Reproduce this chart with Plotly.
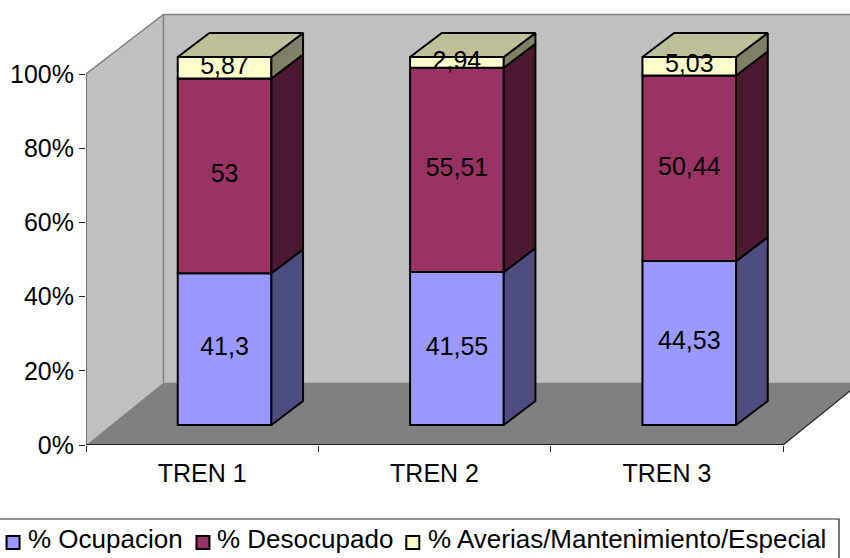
import plotly.graph_objects as go

categories = ["TREN 1", "TREN 2", "TREN 3"]
ocupacion = [41.3, 41.55, 44.53]
desocupado = [53, 55.51, 50.44]
averias = [5.87, 2.94, 5.03]

series_names = ["% Ocupacion", "% Desocupado", "% Averias/Mantenimiento/Especial"]
series_values = [ocupacion, desocupado, averias]
front_colors = ["#9999FF", "#993366", "#FFFFCC"]
side_colors = ["#4D4D80", "#4C1933", "#808066"]
top_color = "#BFBF99"

# Oblique projection, expressed in axis units
WALL_DX, WALL_DY, WALL_TOP_RISE = 0.3333, 16.85, 16.04
BAR_SHIFT_X, BAR_BASE = 0.0963, 5.39
BAR_DX, BAR_DY = 0.1363, 6.47
BAR_WIDTH = 0.403
FRONT_SCALE = 99.2
X_MAX = 3.288
Y_MAX = 117.25
FONT = "Liberation Sans, Arial, sans-serif"
LINE = 2

# Plot frame and key layout, in page pixels
LEFT, RIGHT, TOP, BOTTOM = 85.5, 850, 10, 445
KEY_SWATCH_X = [5, 195, 405]
KEY_TEXT_X = [26, 216, 427]
KEY_Y = 539
KEY_SWATCH_TOP, KEY_SWATCH_BOTTOM = 536, 549


def label(v):
    return str(v).replace(".", ",")


def paper_x(px):
    return (px - LEFT) / (RIGHT - LEFT)


def paper_y(py):
    return (BOTTOM - py) / (BOTTOM - TOP)


fig = go.Figure()

centers = [i + 0.5 + BAR_SHIFT_X for i in range(len(categories))]
totals = [sum(s[i] for s in series_values) for i in range(len(categories))]
bottoms = [BAR_BASE] * len(categories)
segments = []

for name, values, color in zip(series_names, series_values, front_colors):
    heights = [v / t * FRONT_SCALE for v, t in zip(values, totals)]
    fig.add_bar(
        x=centers, y=heights, base=list(bottoms), width=BAR_WIDTH, name=name,
        marker=dict(color=color, line=dict(color="black", width=LINE)),
        hoverinfo="skip", showlegend=False,
    )
    segments.append((list(bottoms), heights))
    bottoms = [b + h for b, h in zip(bottoms, heights)]

# Right-hand side faces of each stacked segment
for (lows, heights), color in zip(segments, side_colors):
    for c, lo, h in zip(centers, lows, heights):
        xr = c + BAR_WIDTH / 2
        fig.add_scatter(
            x=[xr, xr + BAR_DX, xr + BAR_DX, xr, xr],
            y=[lo, lo + BAR_DY, lo + h + BAR_DY, lo + h, lo],
            mode="lines", fill="toself", fillcolor=color,
            line=dict(color="black", width=LINE),
            showlegend=False, hoverinfo="skip",
        )

# Top faces
for c, top in zip(centers, bottoms):
    xl, xr = c - BAR_WIDTH / 2, c + BAR_WIDTH / 2
    fig.add_scatter(
        x=[xl, xl + BAR_DX, xr + BAR_DX, xr, xl],
        y=[top, top + BAR_DY, top + BAR_DY, top, top],
        mode="lines", fill="toself", fillcolor=top_color,
        line=dict(color="black", width=LINE),
        showlegend=False, hoverinfo="skip",
    )

# Value labels centred on the front faces
for (lows, heights), values in zip(segments, series_values):
    fig.add_scatter(
        x=centers,
        y=[lo + h / 2 for lo, h in zip(lows, heights)],
        text=[label(v) for v in values],
        mode="text", textposition="middle center",
        textfont=dict(family=FONT, size=25, color="black"),
        showlegend=False, hoverinfo="skip",
    )

far_x = 3 + WALL_DX
wall_top = 100 + WALL_TOP_RISE

shapes = [
    # Left wall
    dict(type="path", path=f"M0,0 L0,100 L{WALL_DX},{wall_top} L{WALL_DX},{WALL_DY} Z",
         fillcolor="#C0C0C0", line=dict(width=0)),
    # Back wall
    dict(type="rect", x0=WALL_DX, x1=far_x, y0=WALL_DY, y1=wall_top,
         fillcolor="#C0C0C0", line=dict(width=0)),
    # Floor
    dict(type="path", path=f"M0,0 L{WALL_DX},{WALL_DY} L{far_x},{WALL_DY} L3,0 Z",
         fillcolor="#808080", line=dict(width=0)),
    # Wall edges
    dict(type="path", path=f"M0,100 L{WALL_DX},{wall_top} L{far_x},{wall_top}",
         line=dict(color="#808080", width=1.5)),
    dict(type="line", x0=WALL_DX, x1=WALL_DX, y0=WALL_DY, y1=wall_top,
         line=dict(color="#808080", width=1.5)),
    # Floor front-right edge
    dict(type="line", x0=3, x1=far_x, y0=0, y1=WALL_DY,
         line=dict(color="#222222", width=1.2)),
]
shapes = [dict(s, xref="x", yref="y", layer="below") for s in shapes]
# Axis lines limited to the drawn extent
shapes.append(dict(type="line", xref="x", yref="y", x0=0, x1=3, y0=0, y1=0,
                   line=dict(color="#222222", width=2), layer="above"))
shapes.append(dict(type="line", xref="x", yref="y", x0=0, x1=0, y0=0, y1=100,
                   line=dict(color="#222222", width=1), layer="above"))

# Key frame, running off the left and bottom of the page, with its swatches
shapes.append(dict(type="rect", xref="paper", yref="paper",
                   x0=paper_x(-5), x1=paper_x(839), y0=paper_y(519), y1=paper_y(570),
                   fillcolor="white", line=dict(color="#222222", width=1.2)))
annotations = []
for name, color, sx, tx in zip(series_names, front_colors, KEY_SWATCH_X, KEY_TEXT_X):
    shapes.append(dict(type="rect", xref="paper", yref="paper",
                       x0=paper_x(sx + 1), x1=paper_x(sx + 14),
                       y0=paper_y(KEY_SWATCH_BOTTOM), y1=paper_y(KEY_SWATCH_TOP),
                       fillcolor=color, line=dict(color="black", width=2)))
    annotations.append(dict(xref="paper", yref="paper", x=paper_x(tx), y=paper_y(KEY_Y),
                            text=name, showarrow=False, xanchor="left", yanchor="middle",
                            borderpad=0, font=dict(family=FONT, size=26, color="black")))

fig.update_layout(
    width=850, height=558,
    margin=dict(l=LEFT, r=0, t=TOP, b=558 - BOTTOM, pad=0, autoexpand=False),
    paper_bgcolor="white", plot_bgcolor="white",
    barmode="overlay",
    shapes=shapes,
    annotations=annotations,
    showlegend=False,
    font=dict(family=FONT, size=25, color="black"),
    xaxis=dict(
        range=[0, X_MAX], showgrid=False, zeroline=False, showline=False,
        tickmode="array", tickvals=[0.5, 1.5, 2.5], ticktext=categories,
        ticks="outside", ticklen=6, tickcolor="rgba(0,0,0,0)",
        tickfont=dict(family=FONT, size=25),
        minor=dict(tickmode="array", tickvals=[0, 1, 2, 3], ticks="outside",
                   ticklen=6, tickcolor="#222222", tickwidth=1, showgrid=False),
    ),
    yaxis=dict(
        range=[0, Y_MAX], showgrid=False, zeroline=False, showline=False,
        tickmode="array", tickvals=[0, 20, 40, 60, 80, 100],
        ticktext=["0%", "20%", "40%", "60%", "80%", "100%"],
        ticks="outside", ticklen=6, tickcolor="#222222", tickwidth=1,
        tickfont=dict(family=FONT, size=25),
    ),
)

fig.write_html("out.html", config=dict(displayModeBar=False))
